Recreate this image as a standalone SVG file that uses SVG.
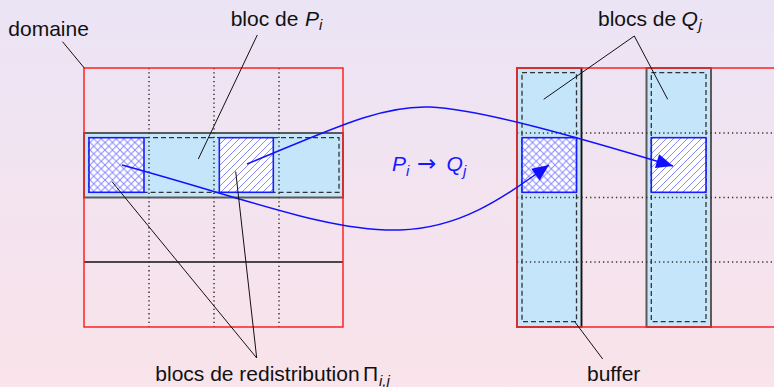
<svg xmlns="http://www.w3.org/2000/svg" width="774" height="387" viewBox="0 0 774 387">
<defs>
<linearGradient id="bg" x1="0" y1="0" x2="0" y2="1">
<stop offset="0" stop-color="#ebe4f5"/>
<stop offset="1" stop-color="#fae3ea"/>
</linearGradient>
<pattern id="cross" patternUnits="userSpaceOnUse" width="7.5" height="7.5">
<rect width="7.5" height="7.5" fill="#fff"/>
<path d="M0,0 L7.5,7.5 M7.5,0 L0,7.5" stroke="#8a8aff" stroke-width="1"/>
</pattern>
<pattern id="diag" patternUnits="userSpaceOnUse" width="7" height="7">
<rect width="7" height="7" fill="#fff"/>
<path d="M-1,8 L8,-1 M-1,1 L1,-1 M6,8 L8,6" stroke="#8a8aff" stroke-width="1"/>
</pattern>
<marker id="ah" markerUnits="userSpaceOnUse" markerWidth="20" markerHeight="20" viewBox="-16 -8 18 16" refX="0" refY="0" orient="auto">
<path d="M0,0 L-15,-6.5 L-15,6.5 Z" fill="#1010ff"/>
</marker>
</defs>
<style>
.t{font-family:"Liberation Sans",Arial,sans-serif;font-size:21px;fill:#111}
.it{font-style:italic}
.sub{font-size:15px;font-style:italic}
.arr{font-family:"DejaVu Sans",sans-serif;font-size:23px}
.band{fill:#c5e6fa;stroke:#5a5a5a;stroke-width:2}
.dot{stroke:#333;stroke-width:1.5;stroke-dasharray:1.3 3;fill:none}
.dash{fill:none;stroke:#333;stroke-width:1.3;stroke-dasharray:5 3}
.hx{fill:url(#cross);stroke:#1a1aff;stroke-width:1.6}
.hd{fill:url(#diag);stroke:#1a1aff;stroke-width:1.6}
.dom{fill:none;stroke:#f22;stroke-width:1.5}
.part{stroke:#111;stroke-width:1.3}
.lead{stroke:#111;stroke-width:1;fill:none}
.flow{stroke:#1010ff;stroke-width:1.5;fill:none;marker-end:url(#ah)}
</style>
<rect width="774" height="387" fill="url(#bg)"/>

<g id="left-domain">
<rect class="band" x="84" y="133" width="259" height="64.5"/>
<line class="part" x1="84" y1="262" x2="343" y2="262"/>
<line class="dot" x1="149" y1="68" x2="149" y2="327"/>
<line class="dot" x1="214" y1="68" x2="214" y2="327"/>
<line class="dot" x1="279" y1="68" x2="279" y2="327"/>
<rect class="dash" x="89" y="137.7" width="250" height="54.6"/>
<rect class="hx" x="89" y="137.7" width="55" height="54.6"/>
<rect class="hd" x="219.3" y="137.7" width="54" height="54.6"/>
<rect class="dom" x="84" y="68" width="259" height="259"/>
</g>

<g id="right-domain">
<rect class="band" x="517" y="68" width="64.5" height="259"/>
<rect class="band" x="646.5" y="68" width="64.5" height="259"/>
<line class="part" x1="581.5" y1="68" x2="581.5" y2="327"/>
<line class="dot" x1="517" y1="133" x2="774" y2="133"/>
<line class="dot" x1="517" y1="197.5" x2="774" y2="197.5"/>
<line class="dot" x1="517" y1="262" x2="774" y2="262"/>
<rect class="dash" x="522" y="72.7" width="54.5" height="249"/>
<rect class="dash" x="651.3" y="72.7" width="54.7" height="249"/>
<rect class="hx" x="522" y="137.7" width="54.5" height="54.6"/>
<rect class="hd" x="651.3" y="137.7" width="54.7" height="54.6"/>
<rect class="dom" x="517" y="68" width="259" height="259"/>
</g>

<g id="connectors">
<path class="flow" d="M122,165 C250,200 330,232 400,230 C460,228 500,200 549,165"/>
<path class="flow" d="M247,164 C330,130 380,105 430,107 C480,109 580,138 673,166"/>
<line class="lead" x1="62.5" y1="41.7" x2="84.3" y2="68"/>
<line class="lead" x1="257.3" y1="35" x2="198.3" y2="159"/>
<polyline class="lead" points="112,181.7 256.7,358 235.7,171.5"/>
<polyline class="lead" points="543.7,99.3 634.3,36 667.7,99.3"/>
<line class="lead" x1="602.7" y1="359" x2="574.7" y2="321.7"/>
</g>

<g id="labels">
<text class="t" x="8.3" y="35.7">domaine</text>
<text class="t" x="230.7" y="25.5">bloc de <tspan class="it" x="305">P</tspan><tspan class="sub" x="319" y="30">i</tspan></text>
<text class="t" x="598" y="25.5">blocs de <tspan class="it" x="681.5">Q</tspan><tspan class="sub" x="698.5" y="30">j</tspan></text>
<text class="t" x="155.3" y="380.7">blocs de redistribution<tspan x="363">Π</tspan><tspan class="sub" x="379" y="385.5">i,j</tspan></text>
<text class="t" x="587" y="380.7">buffer</text>
<text class="t" x="392" y="170.7" style="fill:#1818ff"><tspan class="it">P</tspan><tspan class="sub" x="406" y="176">i</tspan><tspan class="arr" x="417" y="170.7">→</tspan><tspan class="it" x="446.5">Q</tspan><tspan class="sub" x="463" y="176">j</tspan></text>
</g>
</svg>
